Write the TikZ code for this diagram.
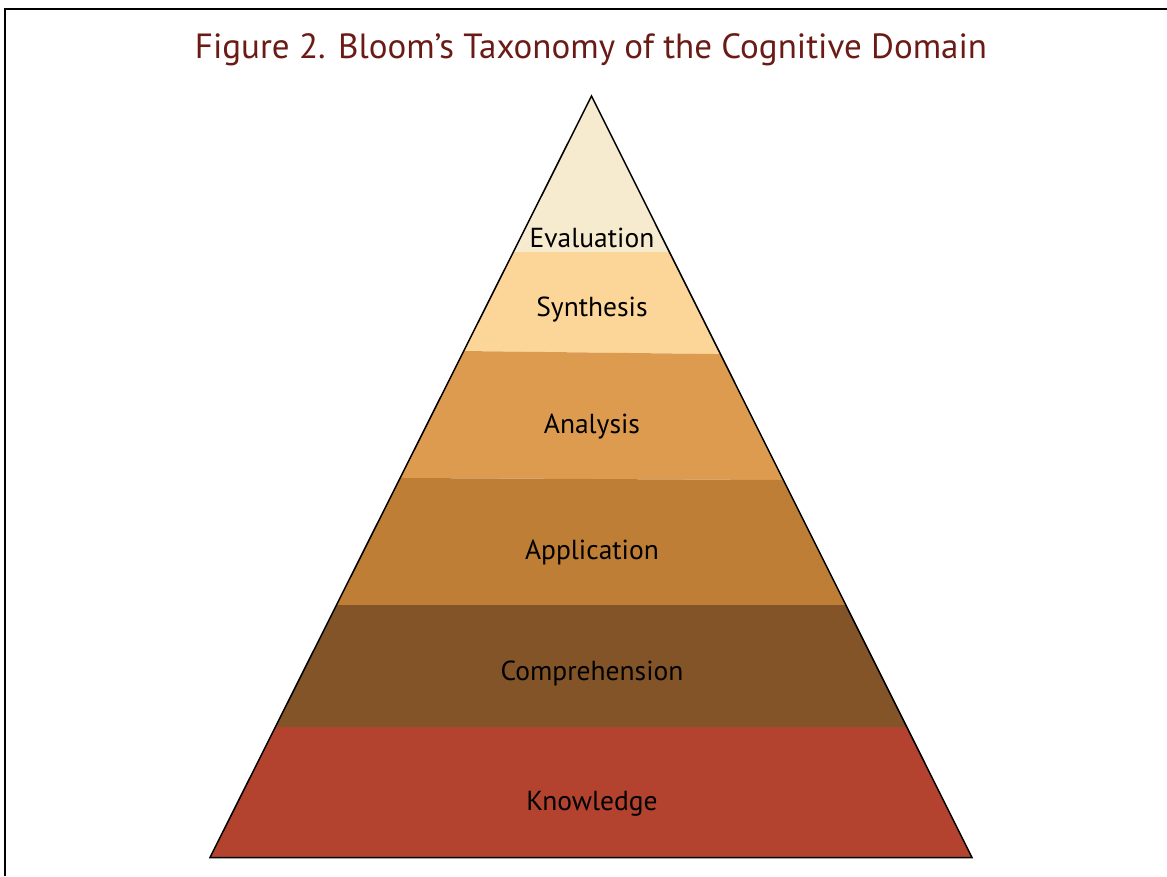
\documentclass[tikz,border=0pt]{standalone}
\usepackage{fontspec}
\setmainfont{PT Sans}

\definecolor{titleRed}{RGB}{107,27,22}
\definecolor{evalCol}{RGB}{246,235,207}
\definecolor{synCol}{RGB}{251,214,152}
\definecolor{anaCol}{RGB}{220,155,79}
\definecolor{appCol}{RGB}{191,126,53}
\definecolor{comCol}{RGB}{131,84,39}
\definecolor{knoCol}{RGB}{179,67,46}

\def\apexX{591.5}
\def\apexY{96}
\def\baseL{210}
\def\baseR{972}
\def\baseY{857.5}

\begin{document}
\begin{tikzpicture}[x=1pt,y=-1pt]
    \useasboundingbox (0,0) rectangle (1167,876);

    \draw[line width=2.5pt] (5,876) -- (5,9) -- (1167,9);
    \node[text=titleRed,font=\fontsize{35}{42}\selectfont] (title) at (591,50) {Figure 2. Bloom's Taxonomy of the Cognitive Domain};

    \begin{scope}
      \clip (\apexX,\apexY) -- (\baseR,\baseY) -- (\baseL,\baseY) -- cycle;
      \foreach \tl/\tr/\bl/\br/\c in {80/80/252/252/evalCol,252/252/347.9/357.2/synCol,347.9/357.2/476.9/481.1/anaCol,476.9/481.1/605/605/appCol,605/605/727/727/comCol,727/727/870/870/knoCol} {
        \fill[\c] (200,\tl) -- (985,\tr) -- (985,\br) -- (200,\bl) -- cycle;
      }
    \end{scope}
    \draw[line width=1.5pt] (\apexX,\apexY) -- (\baseR,\baseY) -- (\baseL,\baseY) -- cycle;

    \foreach \n/\y/\t in {eval/238/Evaluation,syn/310/Synthesis,ana/427/Analysis,app/552/Application,com/673/Comprehension,kno/804/Knowledge} {
      \node[font=\fontsize{27.5}{33}\selectfont] (\n) at (592,\y) {\t};
    }
\end{tikzpicture}
\end{document}
